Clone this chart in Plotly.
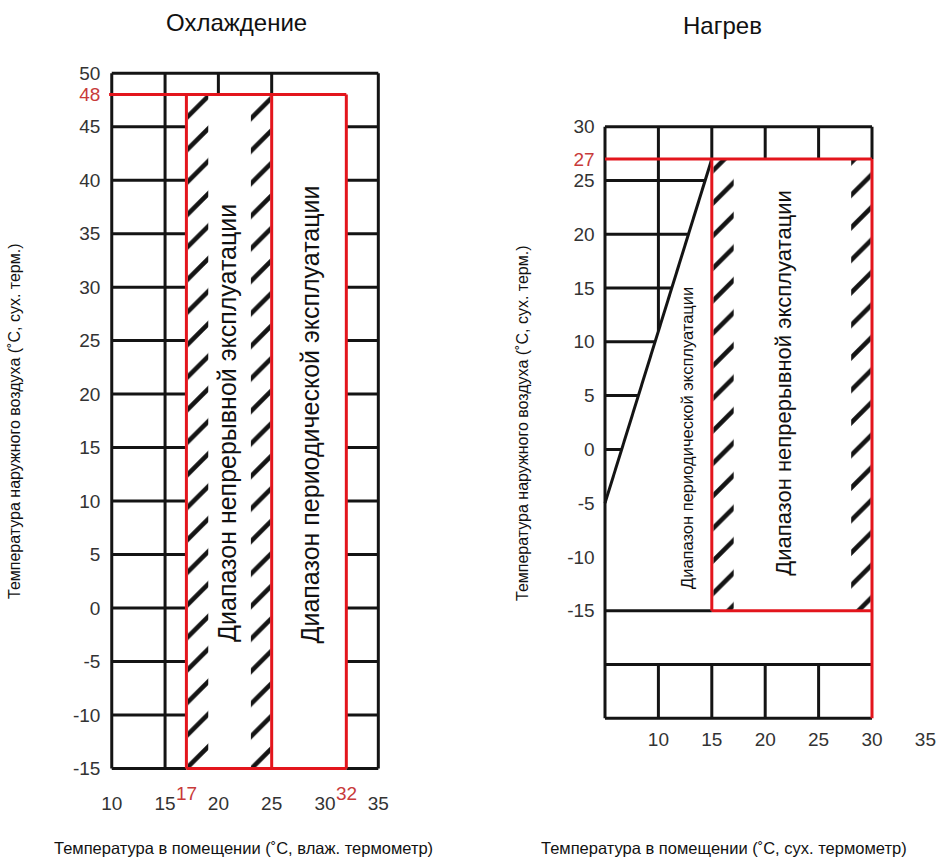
import plotly.graph_objects as go

# ---------------- data ----------------
# Cooling (Охлаждение)
cool_x_ticks = [10, 15, 20, 25, 30, 35]
cool_y_ticks = [50, 48, 45, 40, 35, 30, 25, 20, 15, 10, 5, 0, -5, -10, -15]
cool_y_red = [48]
cool_x_red = [17, 32]
cool_x_lim = [10, 35]
cool_y_lim = [-15, 50]
cool_full_vlines = [15]
cool_top_vlines = [20, 25]
cool_hlines = [45, 40, 35, 30, 25, 20, 15, 10, 5, 0, -5, -10]
cool_cont = [17, 25]      # continuous operation, indoor WB
cool_peri = [25, 32]      # periodic operation, indoor WB
cool_out = [-15, 48]      # outdoor DB limits

# Heating (Нагрев)
heat_x_ticks = [10, 15, 20, 25, 30, 35]
heat_y_ticks = [30, 27, 25, 20, 15, 10, 5, 0, -5, -10, -15]
heat_y_red = [27]
heat_x_lim = [5, 30]
heat_y_lim = [-25, 30]
heat_vlines = [10, 15, 20, 25]
heat_hlines = [25, 20, 15, 10, 5, 0]
heat_low_hline = -20
heat_cont_x = [15, 30]    # continuous operation, indoor DB
heat_out = [-15, 27]      # outdoor DB limits
heat_diag_x = [5, 15]     # periodic operation boundary
heat_diag_y = [-5, 27]

BLACK = "#141414"
RED = "#e3151c"
RED_TXT = "#c83a3a"
GREY_TXT = "#333333"
FONT = "Liberation Sans, Arial, sans-serif"


def segs(pairs):
    xs, ys = [], []
    for (x0, y0), (x1, y1) in pairs:
        xs += [x0, x1, None]
        ys += [y0, y1, None]
    return xs, ys


fig = go.Figure()


def add_lines(pairs, color, xa, ya, width=3):
    xs, ys = segs(pairs)
    fig.add_trace(go.Scatter(x=xs, y=ys, mode="lines", xaxis=xa, yaxis=ya,
                             line=dict(color=color, width=width),
                             hoverinfo="skip", showlegend=False))


def add_hatch(x0, x1, y0, y1, xa, ya):
    fig.add_trace(go.Scatter(x=[x0, x1, x1, x0, x0], y=[y0, y0, y1, y1, y0],
                             mode="lines", fill="toself", xaxis=xa, yaxis=ya,
                             line=dict(width=0, color="rgba(0,0,0,0)"),
                             fillcolor="rgba(0,0,0,0)",
                             fillpattern=dict(shape="/", size=23, solidity=0.2,
                                              fgcolor=BLACK, bgcolor="rgba(0,0,0,0)",
                                              fillmode="replace"),
                             hoverinfo="skip", showlegend=False))


# ---------------- cooling chart ----------------
cx0, cx1 = cool_x_lim
cy0, cy1 = cool_y_lim
black = [
    ((cx0, cy0), (cx0, cy1)), ((cx0, cy1), (cx1, cy1)), ((cx1, cy1), (cx1, cy0)),
    ((cx0, cy0), (cool_cont[0], cy0)), ((cool_peri[1], cy0), (cx1, cy0)),
]
black += [((v, cy0), (v, cy1)) for v in cool_full_vlines]
black += [((v, cool_out[1]), (v, cy1)) for v in cool_top_vlines]
for h in cool_hlines:
    black += [((cx0, h), (cool_cont[0], h)), ((cool_peri[1], h), (cx1, h))]
add_lines(black, BLACK, "x", "y")

add_hatch(cool_cont[0] + 0.15, cool_cont[0] + 2.05, cool_out[0], cool_out[1], "x", "y")
add_hatch(cool_cont[1] - 1.95, cool_cont[1] - 0.12, cool_out[0], cool_out[1], "x", "y")

red = [
    ((cx0 - 0.25, cool_out[1]), (cool_peri[1], cool_out[1])),
    ((cool_cont[0], cool_out[1]), (cool_cont[0], cool_out[0])),
    ((cool_cont[1], cool_out[1]), (cool_cont[1], cool_out[0])),
    ((cool_peri[1], cool_out[1]), (cool_peri[1], cool_out[0])),
    ((cool_cont[0], cool_out[0]), (cool_peri[1], cool_out[0])),
]
add_lines(red, RED, "x", "y")

# ---------------- heating chart ----------------
hx0, hx1 = heat_x_lim
hy0, hy1 = heat_y_lim
dx0, dx1 = heat_diag_x
dy0, dy1 = heat_diag_y


def diag_x(y):
    return dx0 + (y - dy0) * (dx1 - dx0) / (dy1 - dy0)


def diag_y(x):
    return dy0 + (x - dx0) * (dy1 - dy0) / (dx1 - dx0)


black = [
    ((hx0, hy0), (hx0, hy1)), ((hx0, hy1), (hx1, hy1)), ((hx1, hy1), (hx1, heat_out[1])),
    ((hx0, hy0), (hx1, hy0)),
    ((hx0, heat_low_hline), (hx1, heat_low_hline)),
    ((hx0, heat_out[0]), (heat_cont_x[0], heat_out[0])),
    ((dx0, dy0), (dx1, dy1)),
]
black += [((v, heat_out[1]), (v, hy1)) for v in heat_vlines]
black += [((v, hy0), (v, heat_low_hline)) for v in heat_vlines]
black += [((hx0, h), (diag_x(h), h)) for h in heat_hlines]
black += [((v, diag_y(v)), (v, heat_out[1])) for v in heat_vlines if v < dx1]
add_lines(black, BLACK, "x2", "y2")

add_hatch(heat_cont_x[0] + 0.15, heat_cont_x[0] + 2.05, heat_out[0], heat_out[1], "x2", "y2")
add_hatch(heat_cont_x[1] - 1.95, heat_cont_x[1] - 0.12, heat_out[0], heat_out[1], "x2", "y2")

red = [
    ((hx0, heat_out[1]), (hx1, heat_out[1])),
    ((hx1, heat_out[1]), (hx1, hy0)),
    ((heat_cont_x[0], heat_out[1]), (heat_cont_x[0], heat_out[0])),
    ((heat_cont_x[0], heat_out[0]), (heat_cont_x[1], heat_out[0])),
]
add_lines(red, RED, "x2", "y2")


# ---------------- axes ----------------
def ttext(vals, reds):
    return [f'<span style="color:{RED_TXT}">{v}</span>' if v in reds else str(v) for v in vals]


ax_common = dict(showgrid=False, zeroline=False, showline=False, ticks="",
                 tickfont=dict(size=19, color=GREY_TXT, family=FONT), fixedrange=True,
                 tickangle=0, ticklabeloverflow="allow")

fig.update_layout(
    width=941, height=860,
    margin=dict(l=0, r=0, t=0, b=0, autoexpand=False),
    paper_bgcolor="white", plot_bgcolor="white",
    showlegend=False,
    font=dict(family=FONT, color="#222"),
    xaxis=dict(domain=[0.1131, 0.4077], range=[9.5, 35.5], anchor="y",
               tickvals=cool_x_ticks, ticktext=[str(v) for v in cool_x_ticks],
               ticklabelstandoff=16, **ax_common),
    yaxis=dict(domain=[0.10017, 0.92110], range=[-15.5, 50.5], anchor="x",
               tickvals=cool_y_ticks, ticktext=ttext(cool_y_ticks, cool_y_red),
               ticklabelstandoff=5, **ax_common),
    xaxis2=dict(domain=[0.63726, 0.98910], range=[4.5, 35.5], anchor="y2",
                tickvals=heat_x_ticks, ticktext=[str(v) for v in heat_x_ticks],
                ticklabelstandoff=2, **ax_common),
    yaxis2=dict(domain=[0.15851, 0.85893], range=[-25.5, 30.5], anchor="x2",
                tickvals=heat_y_ticks, ticktext=ttext(heat_y_ticks, heat_y_red),
                ticklabelstandoff=4, **ax_common),
)

C = dict(xanchor="center", yanchor="middle", showarrow=False)
ann = []
for v in cool_x_red:
    ann.append(dict(x=v, y=cool_out[0], xref="x", yref="y", text=str(v), showarrow=False,
                    xanchor="center", yanchor="top", yshift=-12,
                    font=dict(size=19, color=RED_TXT, family=FONT)))

ann += [
    dict(x=0.2508, y=0.97326, xref="paper", yref="paper", text="Охлаждение",
         font=dict(size=24, color="#111", family=FONT), **C),
    dict(x=0.76727, y=0.97093, xref="paper", yref="paper", text="Нагрев",
         font=dict(size=24, color="#111", family=FONT), **C),
    dict(x=0.25824, y=0.01395, xref="paper", yref="paper",
         text="Температура в помещении (˚C, влаж. термометр)",
         font=dict(size=16.5, color="#111", family=FONT), **C),
    dict(x=0.76939, y=0.01395, xref="paper", yref="paper",
         text="Температура в помещении (˚C, сух. термометр)",
         font=dict(size=16.5, color="#111", family=FONT), **C),
    dict(x=0.01594, y=0.51047, xref="paper", yref="paper", textangle=-90,
         text="Температура наружного воздуха (˚C, сух. терм.)",
         font=dict(size=16, color="#111", family=FONT), **C),
    dict(x=0.55579, y=0.50814, xref="paper", yref="paper", textangle=-90,
         text="Температура наружного воздуха (˚C, сух. терм.)",
         font=dict(size=16, color="#111", family=FONT), **C),
    dict(x=20.8, y=17.3, xref="x", yref="y", textangle=-90,
         text="Диапазон непрерывной эксплуатации",
         font=dict(size=25, color="#111", family=FONT), **C),
    dict(x=28.6, y=18.1, xref="x", yref="y", textangle=-90,
         text="Диапазон периодической эксплуатации",
         font=dict(size=25, color="#111", family=FONT), **C),
    dict(x=21.76, y=6.2, xref="x2", yref="y2", textangle=-90,
         text="Диапазон непрерывной эксплуатации",
         font=dict(size=22, color="#111", family=FONT), **C),
    dict(x=12.68, y=1.06, xref="x2", yref="y2", textangle=-90,
         text="Диапазон периодической эксплуатации",
         font=dict(size=16.5, color="#111", family=FONT), **C),
]
fig.update_layout(annotations=ann)

# remove the page's default body margin so the 941x860 figure fills the window exactly
fig.write_html("out.html", config={"displayModeBar": False},
               post_script="document.body.style.margin='0px';")
